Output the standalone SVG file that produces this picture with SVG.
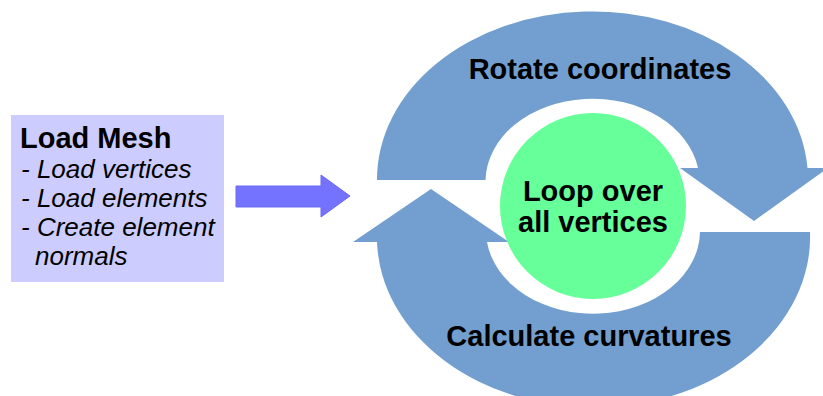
<svg xmlns="http://www.w3.org/2000/svg" width="823" height="396" viewBox="0 0 823 396">
<style>
.bg{fill:#ffffff}
.arc{fill:#729fcf}
.box{fill:#ccccff}
.hub{fill:#66ff99}
.conn{fill:#7373ff;stroke:#6a6af0;stroke-width:1}
.t{font-family:"Liberation Sans",Arial,sans-serif;fill:#000}
.b{font-weight:bold;font-size:29px}
.i{font-style:italic;font-size:26px}
</style>
<rect class="bg" x="0" y="0" width="823" height="396"/>
<g id="loadMesh">
<rect class="box" x="11" y="115" width="213" height="167"/>
<text class="t b" x="20" y="148">Load Mesh</text>
<text class="t i" x="21" y="178">- Load vertices</text>
<text class="t i" x="21" y="207">- Load elements</text>
<text class="t i" x="21" y="236">- Create element</text>
<text class="t i" x="35" y="265">normals</text>
</g>
<g id="connectors">
<path class="conn" d="M236 186 L321 186 L321 175 L350 196 L321 217 L321 207 L236 207 Z"/>
</g>
<g id="rotateCoordinates">
<path class="arc" d="M377 180 A215.5 168 0 0 1 807.5 168 L828 168 L754 221 L680 168 L698 168 A107 83 0 0 0 485.5 180 Z"/>
<text class="t b" x="600" y="79" text-anchor="middle">Rotate coordinates</text>
</g>
<g id="calculateCurvatures">
<path class="arc" d="M810 232 A216 170 0 0 1 377 242 L353 242 L431 189 L509 242 L487 242 A107 83 0 0 0 700 232 Z"/>
<text class="t b" x="589" y="346" text-anchor="middle">Calculate curvatures</text>
</g>
<g id="loopVertices">
<circle class="hub" cx="593" cy="206" r="93"/>
<text class="t b" x="593" y="201" text-anchor="middle">Loop over</text>
<text class="t b" x="593" y="232" text-anchor="middle">all vertices</text>
</g>
</svg>
